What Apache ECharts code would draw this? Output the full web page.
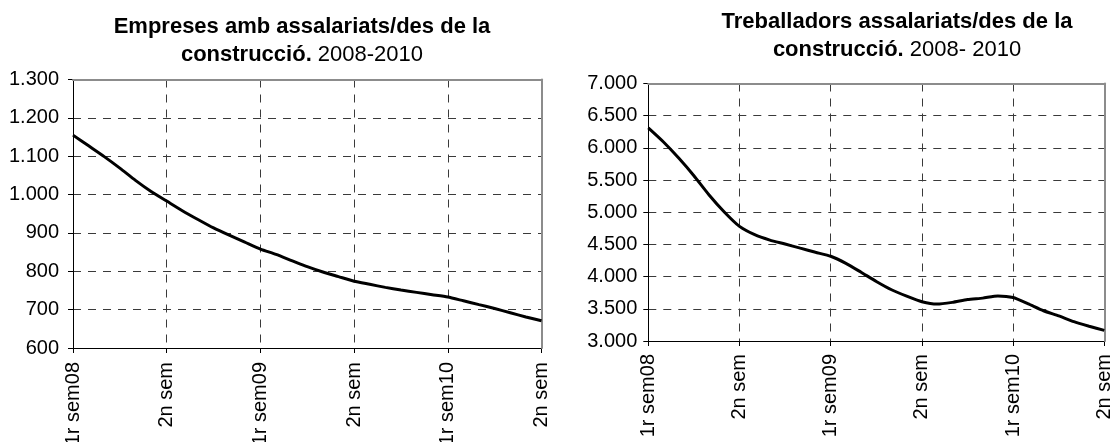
<!DOCTYPE html>
<html>
<head>
<meta charset="utf-8">
<script src="https://cdn.jsdelivr.net/npm/echarts@6/dist/echarts.min.js"></script>
<style>
  html, body { margin: 0; padding: 0; background: #fff; }
  #chart { width: 1114px; height: 442px; }
</style>
</head>
<body>
<div id="chart"></div>
<script>
// Monthly categories, January 2008 to July 2010
const months = [
  'gen08','feb08','mar08','abr08','mai08','jun08','jul08','ago08','set08','oct08','nov08','des08',
  'gen09','feb09','mar09','abr09','mai09','jun09','jul09','ago09','set09','oct09','nov09','des09',
  'gen10','feb10','mar10','abr10','mai10','jun10','jul10'
];
// Labels drawn at every sixth month
const semesterLabels = ['1r sem08', '2n sem', '1r sem09', '2n sem', '1r sem10', '2n sem'];

// Companies with salaried workers in construction
const empreses = [
  1155, 1127, 1099, 1069, 1037, 1008, 983, 958, 935, 913, 894, 876,
  858, 844, 828, 812, 798, 786, 774, 766, 758, 751, 745, 739,
  733, 723, 713, 703, 692, 681, 671
];
// Salaried workers in construction
const treballadors = [
  6310, 6091, 5842, 5568, 5269, 5004, 4780, 4651, 4568, 4507, 4442, 4378,
  4317, 4207, 4068, 3925, 3796, 3696, 3610, 3573, 3600, 3643, 3666, 3700,
  3675, 3576, 3470, 3390, 3300, 3230, 3165
];

const leftTicks = { min: 600, max: 1300, interval: 100 };
const rightTicks = { min: 3000, max: 7000, interval: 500 };

const FONT = '"Liberation Sans", Arial, sans-serif';

function thousands(v) {
  return String(v).replace(/\B(?=(\d{3})+(?!\d))/g, '.');
}

const dashed = { color: '#3a3a3a', width: 1, type: [8, 7] };
const borderLine = { color: '#8c8c8c', width: 2 };

function bottomAxis(gridIndex, margin) {
  return {
    type: 'category', gridIndex, data: months, boundaryGap: false,
    axisLine: { show: true, lineStyle: { color: '#000', width: 1 } },
    axisTick: { show: true, interval: 5, length: 5, lineStyle: { color: '#000' } },
    axisLabel: {
      interval: 5, rotate: 90, margin,
      fontFamily: FONT, fontSize: 20, color: '#000',
      formatter: (v, i) => semesterLabels[i / 6] || ''
    },
    splitLine: { show: true, interval: 5, lineStyle: dashed }
  };
}
function topBorder(gridIndex) {
  return {
    type: 'category', gridIndex, data: months, boundaryGap: false, position: 'top', z: 1,
    axisLine: { show: true, lineStyle: borderLine },
    axisTick: { show: false }, axisLabel: { show: false }, splitLine: { show: false }
  };
}
function leftAxis(gridIndex, t, margin) {
  return {
    type: 'value', gridIndex, min: t.min, max: t.max, interval: t.interval,
    axisLine: { show: true, lineStyle: { color: '#000', width: 1 } },
    axisTick: { show: true, length: 5, lineStyle: { color: '#000' } },
    axisLabel: { margin, fontFamily: FONT, fontSize: 20, color: '#000', formatter: thousands },
    splitLine: { show: true, lineStyle: dashed }
  };
}
function rightBorder(gridIndex, t) {
  return {
    type: 'value', gridIndex, min: t.min, max: t.max, interval: t.interval, position: 'right', z: 1,
    axisLine: { show: true, lineStyle: borderLine },
    axisTick: { show: false }, axisLabel: { show: false }, splitLine: { show: false }
  };
}

const titleRich = {
  b: { fontFamily: FONT, fontSize: 22, fontWeight: 'bold', color: '#000', lineHeight: 28 },
  n: { fontFamily: FONT, fontSize: 22, fontWeight: 'normal', color: '#000', lineHeight: 28 }
};

const chart = echarts.init(document.getElementById('chart'), null, { renderer: 'canvas' });
chart.setOption({
  backgroundColor: '#fff',
  animation: false,
  title: [
    {
      text: '{b|Empreses amb assalariats/des de la}\n{b|construcció.}{n| 2008-2010}',
      left: 297, top: 8, textAlign: 'center',
      textStyle: { rich: titleRich }
    },
    {
      text: '{b|Treballadors assalariats/des de la}\n{b|construcció.}{n| 2008- 2010}',
      left: 892, top: 3, textAlign: 'center',
      textStyle: { rich: titleRich }
    }
  ],
  grid: [
    { left: 73, top: 79.5, width: 468.5, height: 268.5, outerBoundsMode: 'none', containLabel: false },
    { left: 648.3, top: 83.5, width: 456, height: 257.5, outerBoundsMode: 'none', containLabel: false }
  ],
  xAxis: [bottomAxis(0, 14), topBorder(0), bottomAxis(1, 13), topBorder(1)],
  yAxis: [leftAxis(0, leftTicks, 14), rightBorder(0, leftTicks), leftAxis(1, rightTicks, 11), rightBorder(1, rightTicks)],
  series: [
    {
      type: 'line', xAxisIndex: 0, yAxisIndex: 0, data: empreses,
      showSymbol: false, smooth: 0.2, z: 3,
      lineStyle: { color: '#000', width: 3 }
    },
    {
      type: 'line', xAxisIndex: 2, yAxisIndex: 2, data: treballadors,
      showSymbol: false, smooth: 0.2, z: 3,
      lineStyle: { color: '#000', width: 3 }
    }
  ]
});
</script>
</body>
</html>
